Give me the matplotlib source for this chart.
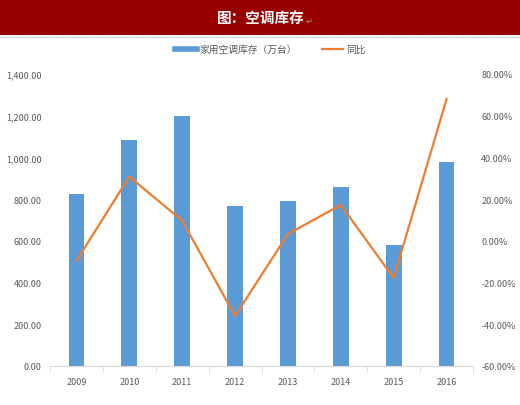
import numpy as np
import matplotlib
matplotlib.use("Agg")
import matplotlib.pyplot as plt
from matplotlib.lines import Line2D
from matplotlib.ticker import FuncFormatter

plt.rcParams['font.family'] = ['Noto Sans CJK SC', 'DejaVu Sans']

years = ["2009", "2010", "2011", "2012", "2013", "2014", "2015", "2016"]
stock = [825, 1085, 1200, 767, 791, 858, 580, 978]          # 家用空调库存（万台）
yoy = [-9.6, 30.8, 9.7, -36.0, 3.3, 17.2, -17.8, 68.0]      # 同比 %

blue = "#5B9BD5"
orange = "#ED7D31"
grey = "#595959"

fig = plt.figure(figsize=(5.2, 4.06), dpi=100)

# title bar
fig.patches.append(plt.Rectangle((0, 1 - 36 / 406), 1, 36 / 406, transform=fig.transFigure,
                                 facecolor="#990000", edgecolor="none"))
fig.add_artist(Line2D([0, 1], [1 - 37.5 / 406] * 2, transform=fig.transFigure,
                      color="#BBBBBB", linewidth=0.8, linestyle=(0, (1, 1))))
fig.text(0.502, 1 - 18 / 406, "图：空调库存", color="white", fontsize=10.5, fontweight="bold",
         ha="center", va="center")
fig.text(0.588, 1 - 21 / 406, "↵", color="#999999", fontsize=6, ha="left", va="center")

ax = fig.add_axes([50 / 520, 1 - 367 / 406, 423 / 520, 292 / 406])
x = np.arange(len(years))
ax.bar(x, stock, width=0.3, color=blue, zorder=2)
ax.set_xlim(-0.5, len(years) - 0.5)
ax.set_ylim(0, 1400)
ax.set_yticks(np.arange(0, 1401, 200))
ax.yaxis.set_major_formatter(FuncFormatter(lambda v, p: f"{v:,.2f}"))
ax.set_xticks(x)
ax.set_xticklabels(years)
ax.set_xticks(np.arange(-0.5, len(years), 1), minor=True)
ax.tick_params(axis="x", which="major", length=0, pad=8, labelsize=6.5, labelcolor=grey)
ax.tick_params(axis="x", which="minor", length=4, color="#D9D9D9", direction="out")
ax.tick_params(axis="y", length=0, labelsize=6.5, labelcolor=grey, pad=6)
for s in ["top", "left", "right"]:
    ax.spines[s].set_visible(False)
ax.spines["bottom"].set_color("#D9D9D9")

ax2 = ax.twinx()
ax2.plot(x, yoy, color=orange, linewidth=1.6, zorder=3)
ax2.set_ylim(-60, 80)
ax2.set_yticks(np.arange(-60, 81, 20))
ax2.yaxis.set_major_formatter(FuncFormatter(lambda v, p: f"{v:.2f}%"))
ax2.tick_params(axis="y", length=0, labelsize=6.5, labelcolor=grey, pad=6)
for s in ["top", "left", "right", "bottom"]:
    ax2.spines[s].set_visible(False)

handles = [Line2D([0], [0], color=blue, linewidth=4),
           Line2D([0], [0], color=orange, linewidth=1.6)]
fig.legend(handles, ["家用空调库存（万台）", "同比"], loc="center", bbox_to_anchor=(0.52, 1 - 50 / 406),
           ncol=2, frameon=False, fontsize=7, labelcolor=grey, handlelength=2.2,
           handletextpad=0.3, columnspacing=2.5)

fig.savefig("out.png", dpi=100)
